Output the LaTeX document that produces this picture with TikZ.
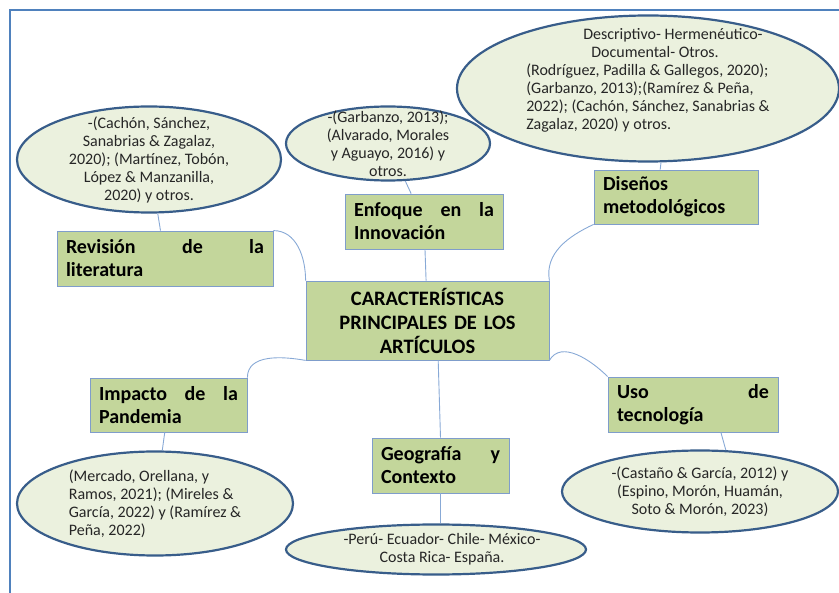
\documentclass[tikz,border=0pt]{standalone}
\usepackage{fontspec}
\setmainfont{Carlito}
\usetikzlibrary{positioning,shapes.geometric}
\setlength{\parindent}{0pt}

\definecolor{temafill}{HTML}{C3D69B}
\definecolor{temaline}{HTML}{7F9DCB}
\definecolor{citafill}{HTML}{EBF1DE}
\definecolor{citaline}{HTML}{385D8A}
\definecolor{enlace}{HTML}{88A9D6}
\definecolor{marcoline}{HTML}{4F81BD}

\tikzset{
  tema/.style={rectangle, draw=temaline, line width=0.8pt, fill=temafill,
    font=\fontsize{20}{23}\selectfont\bfseries, align=justify,
    inner xsep=9pt, inner ysep=0pt},
  cita/.style={ellipse, draw=citaline, line width=2.2pt, fill=citafill, inner sep=0pt},
  citatexto/.style={font=\fontsize{16}{18}\selectfont, text=black!85, align=center},
  enlaza/.style={draw=enlace, line width=0.9pt},
}

\begin{document}
\begin{tikzpicture}[x=1pt,y=-1pt]
        \useasboundingbox (0,0) rectangle (839,593);
        \draw[marcoline, line width=2pt] (10,593) -- (10,10) -- (839,10);

        % temas
        \node[tema, align=center, text width=225pt, minimum height=79pt,
          font=\fontsize{20.5}{24}\selectfont\bfseries] (centro) at (427.5,320.5)
          {CARACTERÍSTICAS\\PRINCIPALES DE LOS\\ARTÍCULOS};
        \node[tema, text width=198pt, minimum height=55pt] (rev) at (165,258.5)
          {Revisión de la\linebreak literatura};
        \node[tema, text width=140pt, minimum height=55pt] (enf) at (424,221.5)
          {Enfoque en la\linebreak Innovación};
        \node[tema, align=left, text width=146pt, minimum height=54pt] (dis) at (676,197)
          {Diseños\\metodológicos};
        \node[tema, text width=139pt, minimum height=54pt] (imp) at (168.5,405)
          {Impacto de la\linebreak Pandemia};
        \node[tema, text width=119pt, minimum height=55pt] (geo) at (440.5,465.5)
          {Geografía y\linebreak Contexto};
        \node[tema, text width=152pt, minimum height=55pt] (uso) at (693,404.5)
          {Uso de\linebreak tecnología};

        % citas
        \node[cita, minimum width=264pt, minimum height=106pt, above=17pt of rev, xshift=-16pt,
          label={[citatexto]center:{-(Cachón, Sánchez,\\Sanabrias \& Zagalaz,\\2020); (Martínez, Tobón,\\López \& Manzanilla,\\2020) y otros.}}] (c1) {};
        \node[cita, minimum width=204pt, minimum height=74pt, above=12pt of enf, xshift=-36pt,
          label={[citatexto]center:{-(Garbanzo, 2013);\\(Alvarado, Morales\\y Aguayo, 2016) y\\otros.}}] (c2) {};
        \node[cita, minimum width=382pt, minimum height=146pt, above=7pt of dis, xshift=-28pt,
          label={[citatexto, align=left, yshift=8pt]center:{\hspace*{57pt}Descriptivo- Hermenéutico-\\\hspace*{65pt}Documental- Otros.\\(Rodríguez, Padilla \& Gallegos, 2020);\\(Garbanzo, 2013);(Ramírez \& Peña,\\2022); (Cachón, Sánchez, Sanabrias \&\\Zagalaz, 2020) y otros.}}] (c3) {};
        \node[cita, minimum width=276pt, minimum height=104pt, below=18pt of imp, xshift=-13.5pt,
          label={[citatexto, align=left]center:{(Mercado, Orellana, y\\Ramos, 2021); (Mireles \&\\García, 2022) y (Ramírez \&\\Peña, 2022)}}] (c4) {};
        \node[cita, minimum width=300pt, minimum height=50pt, below=30pt of geo, xshift=-4.5pt,
          label={[citatexto, xshift=6pt]center:{-Perú- Ecuador- Chile- México-\\Costa Rica- España.}}] (c5) {};
        \node[cita, minimum width=276pt, minimum height=82pt, below=17pt of uso, xshift=7pt,
          label={[citatexto]center:{-(Castaño \& García, 2012) y\\(Espino, Morón, Huamán,\\Soto \& Morón, 2023)}}] (c6) {};

        % enlaces
        \draw[enlaza] (c1) -- (rev);
        \draw[enlaza] (c2) -- (enf);
        \draw[enlaza] (c3.-80) -- (dis.120);
        \draw[enlaza] (imp) -- (c4);
        \draw[enlaza] (geo) -- (geo |- c5.north);
        \draw[enlaza] (uso.-45) -- (c6.58);
        \draw[enlaza] (rev.north east) to[out=0, in=90] (centro.north west);
        \draw[enlaza] (enf) -- (centro);
        \draw[enlaza] (dis.south west) to[out=205, in=100] (centro.north east);
        \draw[enlaza] (imp.north east) to[out=90, in=170] (centro.south west);
        \draw[enlaza] (centro.south east) to[out=60, in=135] (uso.north west);
        \draw[enlaza] (centro.-75) -- (geo.north);
\end{tikzpicture}
\end{document}
